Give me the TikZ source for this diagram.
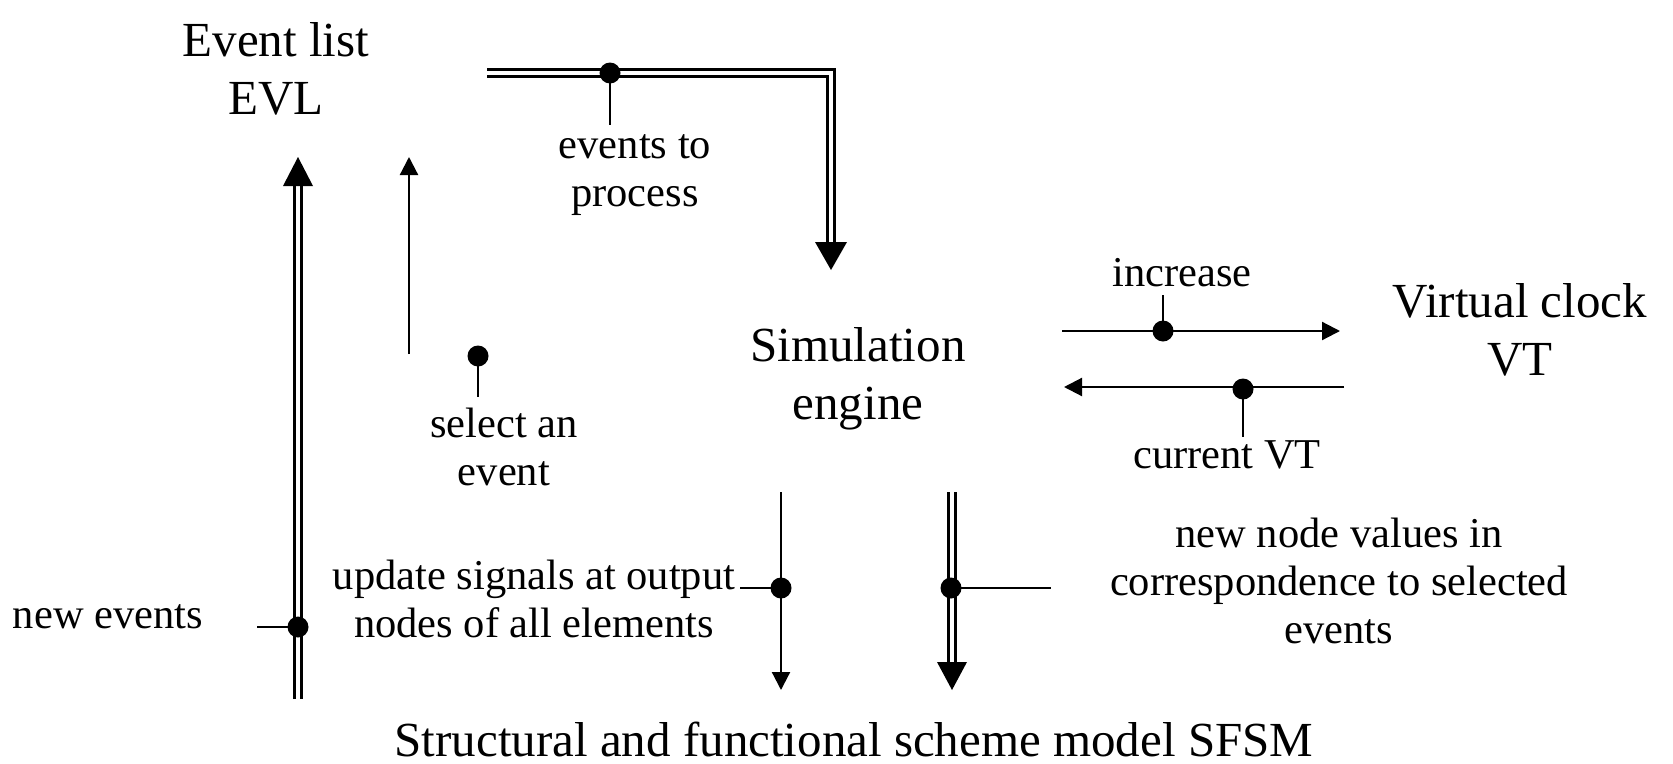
\documentclass[tikz,border=0pt]{standalone}
\usepackage{fontspec}
\setmainfont{Liberation Serif}
\usetikzlibrary{arrows.meta}
\tikzset{
  wire/.style={line width=2.2pt},
  dbl/.style={double, double distance=4.5pt, line width=2.3pt, line join=miter},
  tipS/.style={wire, -{Triangle[length=18pt,width=18pt]}},
  dot/.style={circle, fill, inner sep=0pt, minimum size=21pt},
  big/.style={font=\fontsize{49}{58}\selectfont, align=center, inner sep=0pt},
  small/.style={font=\fontsize{42.5}{48}\selectfont, align=center, inner sep=0pt},
}
\begin{document}
\begin{tikzpicture}[x=1pt,y=-1pt]
\useasboundingbox (0,0) rectangle (1673,763);
% texts
\node[big] (evl) at (276,69) {Event list\\EVL};
\node[big] (sim) at (858,379) {Simulation\\engine};
\node[big] (vc) at (1520,330) {Virtual clock\\VT};
\node[big] (sfsm) at (854,739) {Structural and functional scheme model SFSM};
\node[small] (ne) at (108,617) {new events};
\node[small] (etp) at (635,175) {events to\\process};
\node[small] (sel) at (504,447) {select an\\event};
\node[small] (inc) at (1182,273) {increase};
\node[small] (cvt) at (1227,455) {current VT};
\node[small] (upd) at (534,599) {update signals at output\\nodes of all elements};
\node[small] (nnv) at (1339,581) {new node values in\\correspondence to selected\\events};
% coordinates
\coordinate (a1) at (298,699); \coordinate (a1b) at (298,186); \coordinate (a1t) at (298,157);
\coordinate (a2) at (409,354); \coordinate (a2t) at (409,157);
\coordinate (t0) at (487,73); \coordinate (t1) at (831,73); \coordinate (t2) at (831,242); \coordinate (t3) at (831,270);
\coordinate (i0) at (1062,331); \coordinate (i1) at (1340,331);
\coordinate (c0) at (1344,387); \coordinate (c1) at (1064,387);
\coordinate (b0) at (781,492); \coordinate (b1) at (781,690);
\coordinate (d0) at (952,492); \coordinate (d1) at (952,662); \coordinate (d2) at (952,690);
\coordinate (n1) at (257,627);
\coordinate (s1) at (478,397);
\coordinate (e1) at (610,125);
\coordinate (i2) at (1163,295);
\coordinate (c2) at (1243,437);
\coordinate (u1) at (740,588);
\coordinate (v1) at (1051,588);
% double connectors
\draw[dbl] (a1) -- (a1b);
\fill (a1t) -- ([xshift=-15pt]a1b) -- ([xshift=15pt]a1b) -- cycle;
\draw[dbl] (t0) -- (t1) -- (t2);
\fill (t3) -- ([xshift=-16pt]t2) -- ([xshift=16pt]t2) -- cycle;
\draw[dbl] (d0) -- (d1);
\fill (d2) -- ([xshift=-15pt]d1) -- ([xshift=15pt]d1) -- cycle;
% single connectors
\draw[tipS] (a2) -- (a2t);
\draw[tipS] (i0) -- (i1);
\draw[tipS] (c0) -- (c1);
\draw[tipS] (b0) -- (b1);
% dots and ticks
\node[dot] (dn) at (298,627) {};
\draw[wire] (n1) -- (dn.center);
\node[dot] (ds) at (478,356) {};
\draw[wire] (ds.center) -- (s1);
\node[dot] (de) at (610,73) {};
\draw[wire] (de.center) -- (e1);
\node[dot] (di) at (1163,331) {};
\draw[wire] (di.center) -- (i2);
\node[dot] (dc) at (1243,389) {};
\draw[wire] (dc.center) -- (c2);
\node[dot] (du) at (781,588) {};
\draw[wire] (u1) -- (du.center);
\node[dot] (dv) at (951,588) {};
\draw[wire] (dv.center) -- (v1);
\end{tikzpicture}
\end{document}
